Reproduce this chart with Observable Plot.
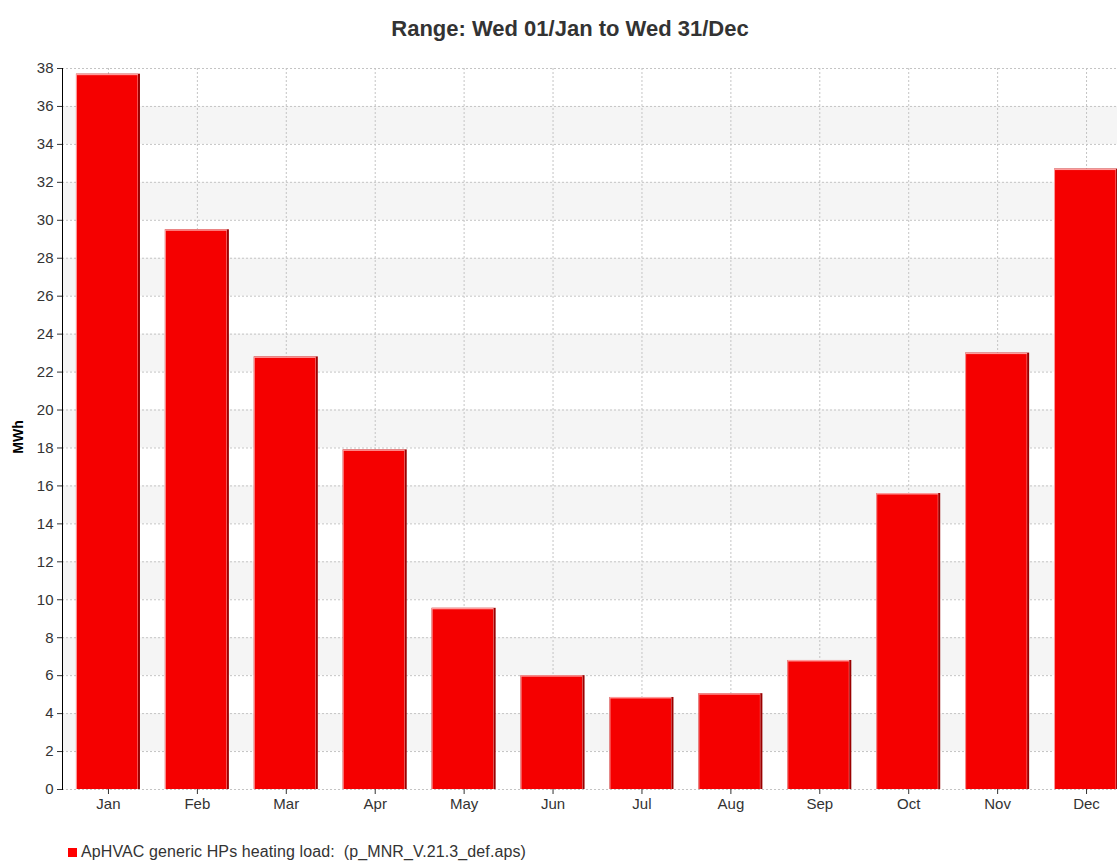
<!DOCTYPE html>
<html>
<head>
<meta charset="utf-8">
<script src="https://cdn.jsdelivr.net/npm/d3@7"></script>
<script src="https://cdn.jsdelivr.net/npm/@observablehq/plot@0.6"></script>
<style>
  html, body { margin: 0; padding: 0; background: #fff; }
  body { width: 1117px; height: 861px; overflow: hidden; font-family: "Liberation Sans", Arial, sans-serif; }
  #title { width: 1140px; height: 58px; box-sizing: border-box; padding-top: 16px; text-align: center;
           font-size: 22px; font-weight: bold; color: #333; }
  #chart svg { display: block; overflow: hidden; }
  #legend { position: relative; height: 42px; font-size: 16px; color: #333; }
  #legend .sw { position: absolute; left: 68px; top: 29px; width: 9px; height: 9px; background: #f00; }
  #legend .tx { position: absolute; left: 81px; top: 24px; white-space: pre; letter-spacing: 0.1px; }
</style>
</head>
<body>
<div id="title"></div>
<div id="chart"></div>
<div id="legend"><span class="sw"></span><span class="tx"></span></div>
<script>
const titleText = "Range: Wed 01/Jan to Wed 31/Dec";
const yLabel = "MWh";
const seriesName = "ApHVAC generic HPs heating load:  (p_MNR_V.21.3_def.aps)";
const months = ["Jan","Feb","Mar","Apr","May","Jun","Jul","Aug","Sep","Oct","Nov","Dec"];
const values = [37.7, 29.5, 22.8, 17.9, 9.55, 6.0, 4.85, 5.05, 6.8, 15.6, 23.0, 32.7];
const yTicks = [0,2,4,6,8,10,12,14,16,18,20,22,24,26,28,30,32,34,36,38];

document.getElementById("title").textContent = titleText;
document.querySelector("#legend .tx").textContent = seriesName;

const data = months.map((m, i) => ({month: m, value: values[i]}));
// alternating shaded bands between tick pairs
const bands = [];
for (let i = 1; i + 1 < yTicks.length; i += 2) bands.push({y1: yTicks[i], y2: yTicks[i + 1]});

const plot = Plot.plot({
  width: 1117,
  height: 761,
  marginTop: 10,
  marginBottom: 30,
  marginLeft: 62,
  marginRight: 0,
  style: {fontFamily: "'Liberation Sans', Arial, sans-serif", fontSize: "15px", color: "#333", background: "#fff"},
  x: {domain: months, range: [63.5, 1130.5], round: false, paddingInner: 0.28, paddingOuter: 0.14, label: null},
  y: {domain: [0, 38], label: null},
  marks: [
    Plot.rect(bands, {y1: "y1", y2: "y2", fill: "#f5f5f5"}),
    Plot.gridY(yTicks, {stroke: "#c4c4c4", strokeOpacity: 1, strokeDasharray: "2,2"}),
    Plot.gridX({stroke: "#c4c4c4", strokeOpacity: 1, strokeDasharray: "2,2"}),
    Plot.barY(data, {x: "month", y: "value", fill: "#9a0000"}),
    Plot.barY(data, {x: "month", y: "value", fill: "#ff9c9c", insetRight: 2}),
    Plot.barY(data, {x: "month", y: "value", fill: "#f50000", insetLeft: 1, insetTop: 1.5, insetRight: 2.5}),
    Plot.axisY({ticks: yTicks, tickSize: 5, tickPadding: 4, label: null, fontSize: 15, color: "#333"}),
    Plot.axisX({tickSize: 5, tickPadding: 4, label: null, fontSize: 15, color: "#333"}),
    Plot.frame({anchor: "left", stroke: "black"}),
    Plot.text([yLabel], {frameAnchor: "left", dx: -44, dy: 8, rotate: -90, textAnchor: "middle",
      fontWeight: "bold", fontSize: 14, fill: "black"})
  ]
});
document.getElementById("chart").appendChild(plot);
</script>
</body>
</html>
